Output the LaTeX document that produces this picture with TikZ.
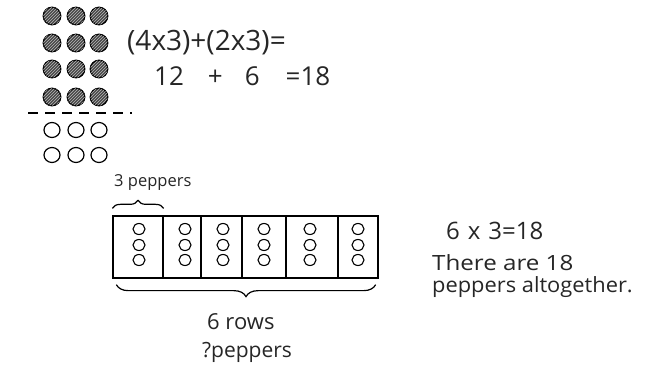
\documentclass[tikz,border=0pt]{standalone}
\usepackage{fontspec}
\usepackage{graphicx}
\setmainfont{Open Sans}
\usetikzlibrary{patterns,decorations.pathreplacing,calc,shapes.geometric}
\begin{document}
\begin{tikzpicture}[x=1pt,y=-1pt,
  hatched/.style={circle,draw=black,line width=1.3pt,inner sep=0pt,minimum size=17.5pt,fill=black!72,
     postaction={pattern=north east lines,pattern color=gray!55}},
  opencirc/.style={ellipse,draw=black,line width=1.2pt,inner sep=0pt,minimum width=16pt,minimum height=15pt},
  pep/.style={ellipse,draw=black,line width=1.1pt,inner sep=0pt,minimum width=12pt,minimum height=11pt},
  cell/.style={draw=black,line width=1.3pt,inner sep=0pt,minimum height=62pt},
  hand/.style={inner sep=0pt,anchor=west,text=black!85},
  bracestyle/.style={decorate,line width=1.2pt}
]
\useasboundingbox (0,0) rectangle (645,371);
% top-left array
\foreach \r/\y in {1/16,2/43,3/69,4/97}{
  \foreach \c/\x in {1/52,2/76,3/99}{
    \node[hatched] (h\r\c) at (\x,\y) {};
  }
}
\foreach \r/\y in {1/130,2/155}{
  \foreach \c/\x in {1/52,2/76,3/99}{
    \node[opencirc] (o\r\c) at (\x,\y) {};
  }
}
\coordinate (dl) at (28,113);
\coordinate (dr) at (132,113);
\draw[line width=1.2pt,dash pattern=on 10pt off 7pt] (dl) -- (dr);
% equations
\node[hand,font=\fontsize{28}{32}\selectfont] (eq1) at (127,43) {(4x3)+(2x3)=};
\node[hand,font=\fontsize{26}{30}\selectfont] (eq2) at (154,76) {12\hspace{24pt}+\hspace{22pt}6\hspace{26pt}=18};
% box
\node[cell,minimum width=50pt] (c1) at (138,247) {};
\node[cell,minimum width=38pt] (c2) at (182,247) {};
\node[cell,minimum width=41pt] (c3) at (221.5,247) {};
\node[cell,minimum width=44pt] (c4) at (264,247) {};
\node[cell,minimum width=52pt] (c5) at (312,247) {};
\node[cell,minimum width=40pt] (c6) at (358,247) {};
\foreach \i/\x in {1/139,2/185,3/223,4/264,5/310,6/358}{
  \node[pep] (p\i a) at (\x,229) {};
  \node[pep] (p\i b) at (\x,245) {};
  \node[pep] (p\i c) at (\x,260) {};
}
% braces
\draw[bracestyle,decoration={brace,amplitude=8pt}] ($(c1.north west)+(0,-7)$) -- ($(c1.north east)+(0,-7)$);
\node[hand,font=\fontsize{16.5}{19}\selectfont] (lab3) at (114,183) {3 peppers};
\draw[bracestyle,decoration={brace,amplitude=12pt}] ($(c6.south east)+(-3,6)$) -- ($(c1.south west)+(4,6)$);
\node[hand,font=\fontsize{22}{25}\selectfont] (rows) at (207,322) {6 rows};
\node[hand,font=\fontsize{21}{24}\selectfont] (qp) at (202,352) {?peppers};
% right text
\node[hand,font=\fontsize{24}{27}\selectfont] (m1) at (446,231) {6\hspace{8pt}x\hspace{8pt}3=18};
\node[hand,font=\fontsize{21}{24}\selectfont] (m2) at (432,263) {\scalebox{1.15}[1]{There are 18}};
\node[hand,font=\fontsize{21}{24}\selectfont] (m3) at (432,287) {\scalebox{1.04}[1]{peppers altogether.}};
\end{tikzpicture}
\end{document}
